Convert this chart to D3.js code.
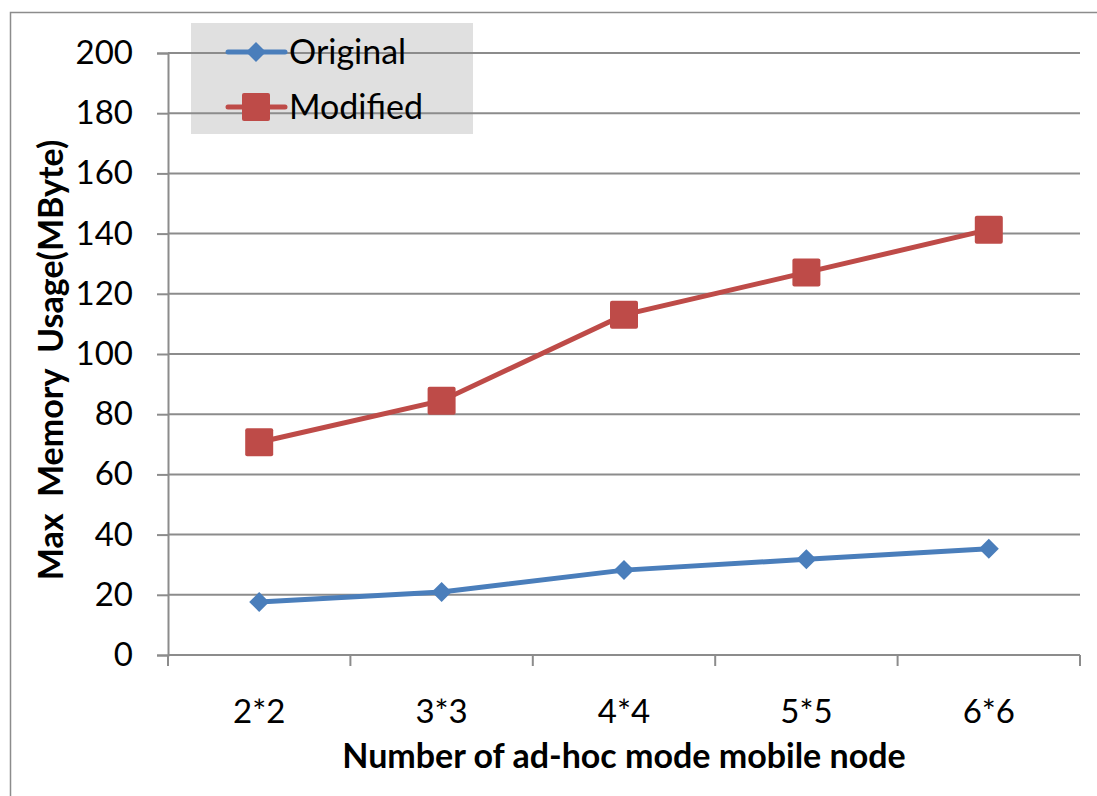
<!DOCTYPE html>
<html>
<head>
<meta charset="utf-8">
<script src="https://cdn.jsdelivr.net/npm/d3@7"></script>
<style>
  html, body { margin: 0; padding: 0; background: #fff; }
  svg { display: block; }
  text { font-family: Lato, "Open Sans", sans-serif; fill: #000; }
</style>
</head>
<body>
<svg id="chart" width="1097" height="796"></svg>
<script>
// Node grid sizes on the x axis
const categories = ["2*2", "3*3", "4*4", "5*5", "6*6"];
// Maximum memory usage per configuration (MByte)
const originalValues = [17.6, 20.9, 28.2, 31.8, 35.3];
const modifiedValues = [70.7, 84.5, 113.0, 127.1, 141.3];
const yTicks = [0, 20, 40, 60, 80, 100, 120, 140, 160, 180, 200];
const seriesNames = ["Original", "Modified"];

const svg = d3.select("#chart");
const plot = { left: 168, right: 1080, top: 53, bottom: 655 };
const gridColor = "#8c8c8c";
const tickFont = 33;

// outer chart frame
svg.append("rect")
  .attr("x", 10.5).attr("y", 12.5)
  .attr("width", 1200).attr("height", 900)
  .attr("fill", "none").attr("stroke", gridColor).attr("stroke-width", 1.5);

const x = d3.scaleBand().domain(categories).range([plot.left, plot.right]).padding(0);
const y = d3.scaleLinear().domain([0, 200]).range([plot.bottom, plot.top]);

// legend background (sits beneath the gridlines)
svg.append("rect")
  .attr("x", 191).attr("y", 23).attr("width", 282).attr("height", 111)
  .attr("fill", "#e0e0e0");

// y axis with ticks and labels
const yAxis = d3.axisLeft(y).tickValues(yTicks).tickSize(11).tickPadding(24)
  .tickFormat(d3.format("d"));
const gy = svg.append("g").attr("transform", `translate(${plot.left},0)`).call(yAxis);
gy.select(".domain").attr("stroke", gridColor).attr("stroke-width", 2);
gy.selectAll(".tick line").attr("stroke", gridColor).attr("stroke-width", 2);
gy.selectAll(".tick text").attr("font-size", tickFont).attr("font-family", "Lato, sans-serif").attr("fill", "#000");

// horizontal gridlines
svg.append("g").selectAll("line")
  .data(yTicks.filter(d => d > 0))
  .join("line")
  .attr("x1", plot.left).attr("x2", plot.right)
  .attr("y1", d => y(d)).attr("y2", d => y(d))
  .attr("stroke", gridColor).attr("stroke-width", 2);

// x axis with boundary ticks between categories
const xAxis = d3.axisBottom(x).tickSize(0).tickPadding(0);
const gx = svg.append("g").attr("transform", `translate(0,${plot.bottom})`).call(xAxis);
gx.select(".domain").remove();
gx.selectAll(".tick text")
  .attr("y", 68).attr("dy", null)
  .attr("font-size", tickFont).attr("font-family", "Lato, sans-serif").attr("fill", "#000");
svg.append("line")
  .attr("x1", plot.left).attr("x2", plot.right)
  .attr("y1", plot.bottom).attr("y2", plot.bottom)
  .attr("stroke", gridColor).attr("stroke-width", 2);
const bounds = categories.map(c => x(c)).concat([plot.right]);
svg.append("g").selectAll("line")
  .data(bounds).join("line")
  .attr("x1", d => d).attr("x2", d => d)
  .attr("y1", plot.bottom).attr("y2", plot.bottom + 11)
  .attr("stroke", gridColor).attr("stroke-width", 2);

const cx = c => x(c) + x.bandwidth() / 2;
const line = d3.line().x((d, i) => cx(categories[i])).y(d => y(d));

const blue = "#4a7ebb";
const red = "#be4b48";

// Modified series
svg.append("path").datum(modifiedValues)
  .attr("d", line).attr("fill", "none").attr("stroke", red).attr("stroke-width", 5);
svg.append("g").selectAll("rect")
  .data(modifiedValues).join("rect")
  .attr("x", (d, i) => cx(categories[i]) - 14)
  .attr("y", d => y(d) - 14)
  .attr("width", 28).attr("height", 28).attr("rx", 2)
  .attr("fill", red);

// Original series
svg.append("path").datum(originalValues)
  .attr("d", line).attr("fill", "none").attr("stroke", blue).attr("stroke-width", 5);
const diamond = d3.symbol().type(d3.symbolSquare).size(200);
svg.append("g").selectAll("path")
  .data(originalValues).join("path")
  .attr("d", diamond)
  .attr("transform", (d, i) => `translate(${cx(categories[i])},${y(d)}) rotate(45)`)
  .attr("fill", blue);

// legend entries
const legend = svg.append("g");
const legendItems = [
  { name: seriesNames[0], color: blue, yPos: 52 },
  { name: seriesNames[1], color: red, yPos: 107 }
];
legendItems.forEach((it, i) => {
  legend.append("line")
    .attr("x1", 228).attr("x2", 285).attr("y1", it.yPos).attr("y2", it.yPos)
    .attr("stroke", it.color).attr("stroke-width", 5).attr("stroke-linecap", "round");
  if (i === 0) {
    legend.append("path").attr("d", diamond)
      .attr("transform", `translate(256,${it.yPos}) rotate(45)`).attr("fill", it.color);
  } else {
    legend.append("rect").attr("x", 242).attr("y", it.yPos - 14)
      .attr("width", 28).attr("height", 28).attr("rx", 2).attr("fill", it.color);
  }
  legend.append("text")
    .attr("x", 289).attr("y", it.yPos + 12)
    .attr("font-size", 34).text(it.name);
});

// axis titles
svg.append("text")
  .attr("x", 624).attr("y", 768)
  .attr("text-anchor", "middle").attr("font-size", 34).attr("font-weight", "bold")
  .text("Number of ad-hoc mode mobile node");
svg.append("text")
  .attr("transform", "translate(63,360) rotate(-90)")
  .attr("text-anchor", "middle").attr("font-size", 34).attr("font-weight", "bold")
  .attr("xml:space", "preserve").style("white-space", "pre")
  .text("Max  Memory  Usage(MByte)");
</script>
</body>
</html>
